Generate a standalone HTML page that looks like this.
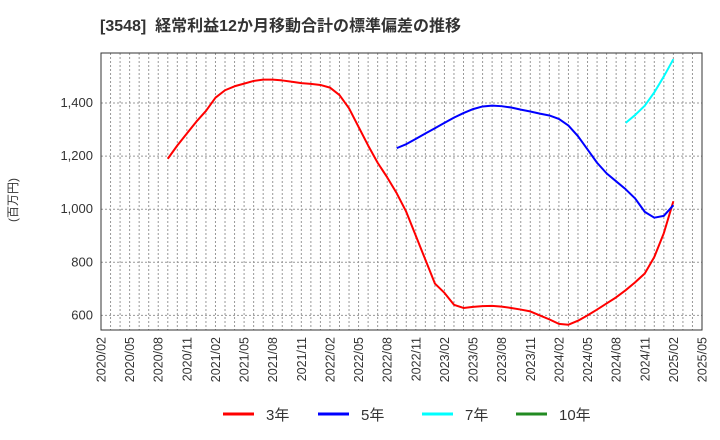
<!DOCTYPE html>
<html><head><meta charset="utf-8"><style>
body{margin:0;background:#fff;}
svg{display:block;font-family:"Liberation Sans","Noto Sans CJK JP",sans-serif;}
</style></head><body>
<svg id="chart" width="720" height="440" xmlns="http://www.w3.org/2000/svg">
<text x="100" y="31" font-size="16" font-weight="bold" fill="#333">[3548]&#160;&#160;経常利益12か月移動合計の標準偏差の推移</text>
<text transform="translate(17,200) rotate(-90)" text-anchor="middle" font-size="12" fill="#333">(百万円)</text>
<g id="grid"></g><g id="series"></g><g id="axes"></g><g id="legend"></g>
</svg>
<script>
const yTicks=[600,800,1000,1200,1400];
const xTickLabels=["2020/02","2020/05","2020/08","2020/11","2021/02","2021/05","2021/08","2021/11","2022/02","2022/05","2022/08","2022/11","2023/02","2023/05","2023/08","2023/11","2024/02","2024/05","2024/08","2024/11","2025/02","2025/05"];
const red3=[1190,1240,1285,1330,1370,1420,1448,1463,1473,1483,1488,1488,1485,1480,1475,1472,1468,1458,1430,1380,1310,1240,1175,1120,1060,990,900,810,720,685,640,628,632,635,636,633,628,622,615,600,585,568,565,580,600,622,645,668,695,725,758,820,910,1030];
const red3Start=7;
const blue5=[1230,1245,1265,1285,1305,1325,1345,1362,1377,1387,1390,1388,1383,1375,1368,1360,1353,1340,1315,1275,1225,1175,1135,1105,1075,1040,990,968,975,1015];
const blue5Start=31;
const cyan7=[1325,1355,1390,1440,1500,1565];
const cyan7Start=55;
const green10=[];
const legendLabels=["3年","5年","7年","10年"];
const colors=["#ff0000","#0000ff","#00ffff","#228b22"];
const L=101,R=702,T=53,B=330;
const x=m=>L+m*(R-L)/63;
const y=v=>103+(1400-v)*53.1/200;
const NS="http://www.w3.org/2000/svg";
function mk(t,a,p){const e=document.createElementNS(NS,t);for(const k in a)e.setAttribute(k,a[k]);p.appendChild(e);return e;}
const grid=document.getElementById('grid'),axes=document.getElementById('axes'),ser=document.getElementById('series'),leg=document.getElementById('legend');
for(let m=1;m<63;m++){const l=mk('line',{x1:x(m),x2:x(m),y1:T,y2:B,stroke:'#999','stroke-dasharray':'2,2','stroke-width':1},grid);

}
yTicks.forEach(v=>{const l=mk('line',{x1:L,x2:R,y1:y(v),y2:y(v),stroke:'#999','stroke-dasharray':'2,2'},grid);


const t=mk('text',{x:L-8,y:y(v)+4,'text-anchor':'end','font-size':13,fill:'#333'},axes);t.textContent=v.toLocaleString('en-US');

});
xTickLabels.forEach((s,i)=>{const xx=x(i*3);const t=mk('text',{transform:`translate(${xx+4.5},337) rotate(-90)`,'text-anchor':'end','font-size':12.5,fill:'#333'},axes);t.textContent=s;

});
const box=mk('rect',{x:L,y:T,width:R-L,height:B-T,fill:'none',stroke:'#333','stroke-width':1},axes);


[[red3,red3Start,'series-3y'],[blue5,blue5Start,'series-5y'],[cyan7,cyan7Start,'series-7y'],[green10,0,'series-10y']].forEach(([d,s,n],i)=>{
if(!d.length)return;const p=mk('polyline',{points:d.map((v,k)=>x(s+k)+','+y(v)).join(' '),fill:'none',stroke:colors[i],'stroke-width':2,'stroke-linejoin':'round'},ser);

});
const lx=[223,318,422,516];
legendLabels.forEach((s,i)=>{const g=mk('g',{},leg);


mk('line',{x1:lx[i],x2:lx[i]+31,y1:414,y2:414,stroke:colors[i],'stroke-width':3},g);
const t=mk('text',{x:lx[i]+43,y:420,'font-size':15,fill:'#333'},g);t.textContent=s;});
</script>
</body></html>
